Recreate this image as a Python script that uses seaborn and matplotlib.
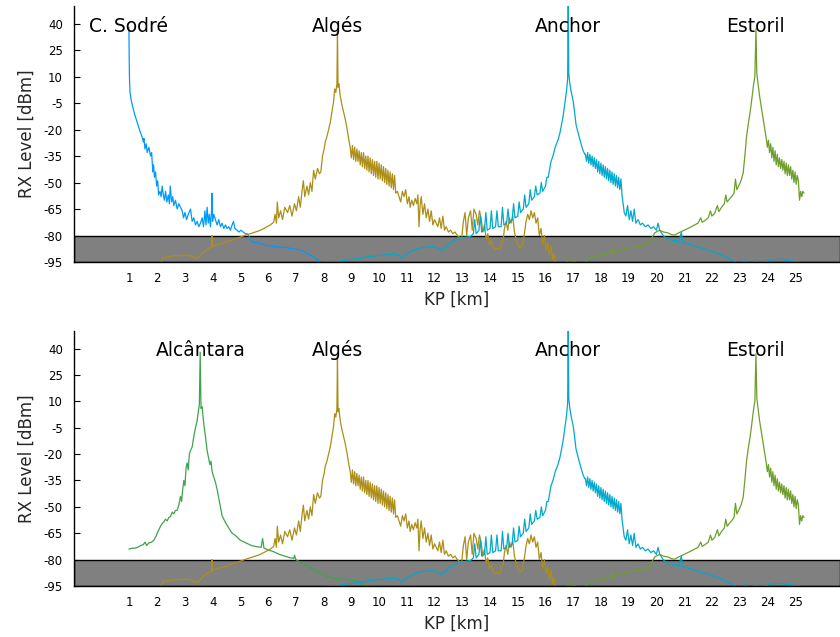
import pandas as pd
import seaborn as sns
import matplotlib.pyplot as plt

# RX level along the line (KP in km, level in dBm)
sodre_kp = [0.98, 0.99, 1.0, 1.02, 1.06, 1.1, 1.18, 1.28, 1.38, 1.45,
            1.5, 1.52, 1.56, 1.6, 1.64, 1.7, 1.76, 1.8, 1.84, 1.87,
            1.9, 1.94, 1.98, 2.02, 2.05, 2.1, 2.14, 2.18, 2.22, 2.26,
            2.3, 2.35, 2.4, 2.44, 2.47, 2.52, 2.56, 2.6, 2.66, 2.72,
            2.78, 2.84, 2.9, 2.95, 3.0, 3.06, 3.12, 3.2, 3.26, 3.32,
            3.38, 3.44, 3.5, 3.56, 3.62, 3.67, 3.72, 3.76, 3.8, 3.84,
            3.88, 3.92, 3.96, 3.98, 4.0, 4.04, 4.1, 4.16, 4.22, 4.28,
            4.34, 4.4, 4.46, 4.52, 4.58, 4.64, 4.7, 4.75, 4.8, 4.88,
            4.95, 5.02, 5.1, 5.18, 5.24, 5.3, 5.36, 5.42, 5.5, 5.6,
            5.72, 5.9, 6.1, 6.3, 6.5, 6.7, 6.9, 7.1, 7.2, 7.35,
            7.5, 7.64, 7.75, 7.85, 7.92]
sodre_rx = [38, 20, 9, 1, -3, -6, -11, -16, -21, -24,
            -27, -25, -31, -28, -33, -30, -35, -33, -44, -40,
            -47, -44, -52, -49, -57, -55, -58, -52, -57, -60,
            -55, -61, -57, -62, -52, -61, -58, -63, -60, -65,
            -62, -64, -66, -70, -67, -71, -68, -65, -72, -70,
            -74, -72, -75, -73, -70, -75, -66, -74, -64, -73,
            -68, -75, -66, -56, -72, -68, -71, -74, -71, -75,
            -73, -76, -74, -76, -75, -77, -74, -72, -76, -77,
            -78, -77, -78, -79, -79, -80, -82, -83.5, -84, -84,
            -84.5, -85.5, -86, -86.5, -86.5, -87, -87.5, -88, -88.5, -89.5,
            -91, -92, -93.5, -94.5, -96]

alges_kp = [2.12, 2.2, 2.4, 2.6, 2.8, 3.0, 3.2, 3.35, 3.44, 3.55,
            3.7, 3.8, 3.9, 3.97, 3.98, 3.99, 4.1, 4.3, 4.52, 4.7,
            4.88, 5.05, 5.24, 5.45, 5.72, 5.9, 6.08, 6.2, 6.25, 6.3,
            6.33, 6.38, 6.45, 6.52, 6.6, 6.7, 6.78, 6.86, 6.95, 7.02,
            7.1, 7.16, 7.22, 7.27, 7.32, 7.4, 7.46, 7.52, 7.58, 7.64,
            7.7, 7.78, 7.85, 7.9, 7.96, 8.02, 8.06, 8.12, 8.18, 8.24,
            8.3, 8.36, 8.4, 8.44, 8.48, 8.5, 8.52, 8.55, 8.6, 8.66,
            8.72, 8.78, 8.84, 8.9, 8.96,
            9.0, 9.04, 9.08, 9.12, 9.16, 9.2, 9.24, 9.28, 9.32, 9.36,
            9.4, 9.44, 9.48, 9.52, 9.56, 9.6, 9.64, 9.68, 9.72, 9.76,
            9.8, 9.84, 9.88, 9.92, 9.96, 10.0, 10.04, 10.08, 10.12, 10.16,
            10.2, 10.24, 10.28, 10.32, 10.36, 10.4, 10.44, 10.48, 10.52, 10.56,
            10.6,
            10.66, 10.72, 10.78, 10.84, 10.9, 10.96, 11.02, 11.08, 11.12, 11.18,
            11.24, 11.3, 11.36, 11.4, 11.44, 11.48, 11.52, 11.58, 11.64, 11.7,
            11.76, 11.82, 11.88, 11.94, 12.0, 12.06, 12.12, 12.18, 12.24, 12.3,
            12.36, 12.42, 12.5, 12.58, 12.66, 12.74, 12.82, 12.9, 12.98, 13.04,
            13.1, 13.16, 13.22, 13.3, 13.36, 13.42, 13.5, 13.56, 13.62, 13.68,
            13.74, 13.8, 13.86, 13.92, 13.98, 14.04, 14.1, 14.18, 14.26, 14.34,
            14.42, 14.48, 14.52, 14.58, 14.64, 14.7, 14.76, 14.82, 14.88, 14.94,
            15.0, 15.08, 15.16, 15.24, 15.3, 15.36, 15.42, 15.48, 15.54, 15.6,
            15.66, 15.72, 15.78, 15.84, 15.9, 15.96, 16.02, 16.08, 16.14, 16.2,
            16.26, 16.3, 16.36]
alges_rx = [-96, -92.5, -92, -91.5, -91.5, -91, -91.5, -92.5, -93, -91.5,
            -89, -88, -87, -86.5, -80, -86, -85.5, -84.5, -83.5, -82.5,
            -81.5, -80.5, -79.5, -78.5, -77, -75.5, -74, -72.5, -68, -73,
            -61, -70, -66, -71, -64, -67, -63, -69, -62, -66,
            -58, -64, -55, -49, -58, -52, -57, -50, -55, -43,
            -48, -42, -45, -44, -35, -31, -27, -24, -20, -16,
            -10, -4, 3, 1, 6, 36, 4, 6, -1, -6,
            -10, -14, -19, -25, -30,
            -36, -29, -37, -30, -38, -31, -38, -32, -40, -33,
            -41, -33, -42, -35, -43, -35, -44, -36, -45, -37,
            -46, -38, -47, -38, -48, -39, -48, -40, -49, -41,
            -50, -42, -51, -43, -52, -44, -53, -45, -54, -46,
            -56,
            -55, -58, -61, -55, -58, -54, -62, -58, -64, -60,
            -63, -59, -62, -57, -75, -63, -58, -68, -62, -70,
            -65, -72, -66, -74, -71, -73, -75, -70, -76, -69,
            -77, -75, -78, -77, -79, -78, -80, -81, -81.5, -72,
            -67, -80, -70, -66, -77, -65, -68, -74, -66, -70,
            -78, -74, -82, -79, -85, -83, -86, -88, -87, -88,
            -85, -82, -76, -72, -77, -70, -73, -69, -78, -82,
            -85, -87, -86, -79, -72, -68, -71, -66, -70, -67,
            -73, -70, -80, -76, -85, -80, -88, -84, -91, -86,
            -94, -90, -96]

anchor_kp = [7.9, 8.1, 8.3, 8.45, 8.6, 8.8, 9.0, 9.3, 9.6, 9.9,
             10.2, 10.5, 10.7, 10.8, 10.9, 11.1, 11.3, 11.5, 11.7, 11.96,
             12.1, 12.27, 12.4, 12.57, 12.75, 12.93, 13.1, 13.3, 13.4, 13.45,
             13.5, 13.6, 13.65, 13.7, 13.8, 13.85, 13.9, 14.0, 14.05, 14.1,
             14.2, 14.25, 14.3, 14.4, 14.45, 14.5, 14.6, 14.65, 14.7, 14.8,
             14.85, 14.9, 15.0, 15.05, 15.1, 15.2, 15.25, 15.3, 15.4, 15.45,
             15.5, 15.6, 15.65, 15.7, 15.8, 15.85, 15.9, 16.0, 16.05, 16.1,
             16.2, 16.27, 16.35, 16.45, 16.52, 16.57, 16.64, 16.7, 16.76, 16.8,
             16.82, 16.84, 16.87, 16.92, 17.0, 17.05, 17.1, 17.18, 17.25, 17.3,
             17.36, 17.42,
             17.44, 17.48, 17.52, 17.56, 17.6, 17.64, 17.68, 17.72, 17.76, 17.8,
             17.84, 17.88, 17.92, 17.96, 18.0, 18.04, 18.08, 18.12, 18.16, 18.2,
             18.24, 18.28, 18.32, 18.36, 18.4, 18.44, 18.48, 18.52, 18.56, 18.6,
             18.64, 18.68, 18.72, 18.76, 18.8,
             18.84, 18.9, 18.96, 19.02, 19.08, 19.14, 19.2, 19.26, 19.34, 19.42,
             19.5, 19.6, 19.7, 19.8, 19.9, 20.0, 20.06, 20.12, 20.2, 20.3,
             20.45, 20.6, 20.7, 20.8, 20.9, 20.95, 21.05, 21.2, 21.4, 21.6,
             21.8, 22.0, 22.2, 22.4, 22.6, 22.8, 22.9, 23.1, 23.2, 23.3,
             23.5, 23.6, 23.7, 23.9, 24.1, 24.3, 24.5, 24.7, 24.9, 25.1,
             25.3]
anchor_rx = [-95.5, -95, -95, -95, -94.5, -94, -93.5, -93, -92, -91.5,
             -91, -90.5, -91, -93, -91.5, -89.5, -88, -87, -86.5, -86.3,
             -87, -88.5, -86.5, -84, -82.5, -81.5, -81, -80.5, -79, -71,
             -79, -77, -69, -78, -77, -67, -77, -76, -66, -76,
             -75, -66, -75, -75, -64, -74, -73, -65, -73, -71,
             -62, -70, -69, -61, -67, -65, -57, -64, -62, -54,
             -60, -58, -52, -57, -56, -50, -55, -52, -47, -47,
             -38, -35, -30, -26, -22, -18, -12, -5, 2, 9,
             55, 12, 7, 2, -4, -10, -17, -22, -26, -29,
             -32, -34,
             -34, -38, -33, -39, -34, -40, -35, -41, -36, -42,
             -37, -44, -38, -45, -39, -46, -40, -47, -41, -48,
             -42, -49, -43, -50, -44, -51, -45, -52, -46, -53,
             -47, -54, -48, -57, -62,
             -67, -69, -63, -71, -66, -72, -65, -73, -71, -74,
             -73, -75, -74, -76, -75, -77, -73, -77, -79, -81,
             -82, -83, -82.5, -84, -78, -84, -84.5, -85, -86, -87,
             -88, -89, -90, -91.5, -93, -94.5, -95.5, -95.5, -94, -95.5,
             -95.5, -94.5, -95.5, -95, -94, -93.5, -93.5, -94, -94.5, -95,
             -95.5]

estoril_kp = [16.75, 16.82, 17.0, 17.2, 17.4, 17.6, 17.77, 18.0, 18.2, 18.37,
              18.4, 18.43, 18.6, 18.74, 19.0, 19.22, 19.45, 19.7, 19.85, 19.94,
              20.05, 20.12, 20.25, 20.42, 20.55, 20.66, 20.8, 21.0, 21.2, 21.38,
              21.5, 21.6, 21.65, 21.75, 21.87, 21.95, 22.0, 22.1, 22.2, 22.25,
              22.35, 22.45, 22.5, 22.55, 22.65, 22.71, 22.8, 22.85, 22.9, 22.95,
              23.05, 23.13, 23.2, 23.25, 23.32, 23.38, 23.43, 23.5, 23.55, 23.59,
              23.62, 23.65, 23.72, 23.8, 23.88, 23.97,
              24.0, 24.04, 24.08, 24.12, 24.16, 24.2, 24.24, 24.28, 24.32, 24.36,
              24.4, 24.44, 24.48, 24.52, 24.56, 24.6, 24.64, 24.68, 24.72, 24.76,
              24.8, 24.84, 24.88, 24.92, 24.96, 25.0, 25.04, 25.08, 25.12,
              25.16, 25.2, 25.24, 25.28, 25.32]
estoril_rx = [-95.5, -94, -94.5, -95.5, -95.5, -93, -92, -91, -90.5, -90,
              -87, -90, -88.5, -88, -87, -86.5, -86, -84.5, -81, -78.5,
              -77.5, -77, -78, -78.5, -79.5, -79.7, -78.5, -77, -75.5, -74,
              -73, -70, -72.5, -71.5, -70, -66, -69, -67.5, -63, -66.5,
              -64, -62, -57, -61, -59, -58, -56, -48, -54, -52.5,
              -49, -44.5, -33, -24, -16, -10, -4, 5, 10, 37,
              12, 8, -1, -9, -17, -26,
              -30, -26, -33, -28, -36, -30, -38, -32, -40, -34,
              -41, -36, -42, -37, -43, -38, -45, -39, -46, -40,
              -46, -41, -48, -43, -50, -44, -51, -46, -49,
              -60, -55, -58, -55, -56]

alcantara_kp = [0.98, 1.1, 1.2, 1.3, 1.4, 1.5, 1.56, 1.62, 1.7, 1.8,
                1.88, 1.95, 2.0, 2.06, 2.12, 2.18, 2.24, 2.3, 2.36, 2.42,
                2.48, 2.54, 2.6, 2.66, 2.72, 2.78, 2.84, 2.88, 2.92, 2.96,
                3.0, 3.04, 3.08, 3.12, 3.16, 3.2, 3.26, 3.32, 3.38, 3.44,
                3.48, 3.52, 3.55, 3.58, 3.62, 3.68, 3.74, 3.8, 3.85, 3.9,
                3.94, 3.98, 4.04, 4.1, 4.16, 4.22, 4.28, 4.34, 4.4, 4.5,
                4.6, 4.7, 4.8, 4.9, 5.0, 5.2, 5.4, 5.6, 5.75, 5.8,
                5.85, 6.0, 6.2, 6.4, 6.6, 6.8, 6.93, 6.95, 7.0, 7.2,
                7.42, 7.6, 7.9, 8.1, 8.36, 8.6, 8.96, 9.2, 9.44, 9.57]
alcantara_rx = [-74, -73.5, -73.5, -73, -72, -71.5, -70, -72, -70.5, -70,
                -69, -67, -65, -63, -61, -59.5, -58.5, -57, -58, -56,
                -55.5, -53, -54, -52, -52, -49, -44, -47, -40, -35,
                -38, -28, -25, -29, -20, -18, -16, -10, -5, -1,
                4, 8, 38, 6, 7, -3, -10, -18, -22, -26,
                -24, -30, -33, -36, -40, -45, -50, -55, -57, -60,
                -62.5, -65, -66, -67.5, -69, -70.5, -72, -72.7, -73, -68,
                -73.5, -74.5, -75.5, -77, -78, -79, -79.3, -77.5, -80, -82,
                -84, -85.5, -88, -89.5, -90.5, -91, -91.6, -92.3, -93.3, -95.5]

# station names and where their label sits (KP of the site)
top_stations = ["C. Sodré", "Algés", "Anchor", "Estoril"]
top_label_kp = [0.96, 8.5, 16.82, 23.56]
bottom_stations = ["Alcântara", "Algés", "Anchor", "Estoril"]
bottom_label_kp = [3.56, 8.5, 16.82, 23.56]

kp_ticks = list(range(1, 26))
rx_ticks = [40, 25, 10, -5, -20, -35, -50, -65, -80, -95]
threshold = (-95, -80)

colors = {"C. Sodré": "#009AFA", "Algés": "#AC8E18", "Anchor": "#00A9CD",
          "Estoril": "#6E9E2C", "Alcântara": "#3EA44E"}

series = {"C. Sodré": (sodre_kp, sodre_rx), "Algés": (alges_kp, alges_rx),
          "Anchor": (anchor_kp, anchor_rx), "Estoril": (estoril_kp, estoril_rx),
          "Alcântara": (alcantara_kp, alcantara_rx)}


def make_df(names):
    parts = []
    for n in names:
        kp, rx = series[n]
        parts.append(pd.DataFrame({"kp": kp, "rx": rx, "station": n}))
    return pd.concat(parts, ignore_index=True)


sns.set_style("ticks")
plt.rcParams['font.family'] = ['DejaVu Sans']
plt.rcParams['axes.unicode_minus'] = False

fig = plt.figure(figsize=(8.4, 6.37), dpi=100)
ax_top = fig.add_axes([74 / 840, 375 / 637, 766 / 840, 256 / 637])
ax_bot = fig.add_axes([74 / 840, 51 / 637, 766 / 840, 255 / 637])

for ax, names, lab_kp in [(ax_top, top_stations, top_label_kp),
                          (ax_bot, bottom_stations, bottom_label_kp)]:
    ax.axhspan(threshold[0], threshold[1], facecolor="#808080",
               edgecolor="black", linewidth=1.0, zorder=1)
    df = make_df(names)
    sns.lineplot(data=df, x="kp", y="rx", hue="station", hue_order=names,
                 palette=colors, sort=False, estimator=None, legend=False,
                 linewidth=0.9, ax=ax, zorder=2)
    for name, k in zip(names, lab_kp):
        ax.text(k, 35.5, name, ha="center", va="baseline", fontsize=13.5,
                color="black", zorder=3)
    ax.set_xlim(-1, 26.62)
    ax.set_ylim(-95, 50)
    ax.set_xticks(kp_ticks)
    ax.set_yticks(rx_ticks)
    ax.tick_params(axis="both", direction="in", length=4, labelsize=8.5,
                   colors="black")
    ax.tick_params(axis="x", pad=7)
    ax.tick_params(axis="y", pad=8)
    ax.set_xlabel("KP [km]", fontsize=12, labelpad=4)
    ax.set_ylabel("RX Level [dBm]", fontsize=12, labelpad=6)
    sns.despine(ax=ax)
    for s in ["left", "bottom"]:
        ax.spines[s].set_color("black")
        ax.spines[s].set_linewidth(1.0)

fig.savefig("out.png", dpi=100)
